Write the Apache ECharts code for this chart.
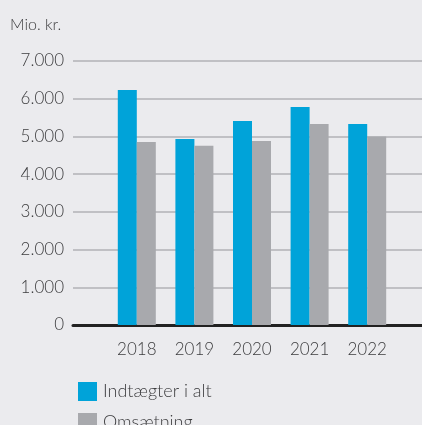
<!DOCTYPE html>
<html>
<head>
<meta charset="utf-8">
<script src="https://cdn.jsdelivr.net/npm/echarts@6/dist/echarts.min.js"></script>
<style>
  html, body { margin: 0; padding: 0; background: #ebebee; }
  #chart { width: 422px; height: 425px; }
</style>
</head>
<body>
<div id="chart"></div>
<script>
var years = ['2018', '2019', '2020', '2021', '2022'];
var indtaegter = [6230, 4930, 5410, 5780, 5330];
var omsaetning = [4850, 4750, 4880, 5330, 5000];
var yTicks = [0, 7000, 1000]; // min, max, interval

var fontFam = 'Lato, "Open Sans", sans-serif';
var textCol = '#3c3c3e';

function fmt(v) {
    // dansk tusindtalsseparator
    return String(v).replace(/\B(?=(\d{3})+(?!\d))/g, '.');
}

function legendAt(name, top) {
    return {
        left: 73,
        top: top,
        itemWidth: 19,
        itemHeight: 19,
        icon: 'rect',
        textStyle: { fontFamily: fontFam, fontWeight: 300, fontSize: 18, color: textCol, padding: [0, 0, 0, 1] },
        data: [name]
    };
}

var myChart = echarts.init(document.getElementById('chart'));
myChart.setOption({
    backgroundColor: '#ebebee',
    animation: false,
    color: ['#00a3d9', '#a8a9ad'],
    title: {
        text: 'Mio. kr.',
        left: 5,
        top: 12,
        textStyle: { fontFamily: fontFam, fontWeight: 300, fontSize: 16, color: textCol }
    },
    legend: [legendAt('Indtægter i alt', 377), legendAt('Omsætning', 408)],
    grid: [
        { left: 73, right: 0, top: 61, bottom: 100 },
        { left: 108, right: 26, top: 61, bottom: 100 }
    ],
    xAxis: [{
        gridIndex: 0,
        type: 'category',
        data: years,
        axisLine: { show: true, lineStyle: { color: '#222', width: 3 } },
        axisTick: { show: false },
        axisLabel: { show: false }
    }, {
        gridIndex: 1,
        type: 'category',
        data: years,
        axisLine: { show: false },
        axisTick: { show: false },
        axisLabel: { fontFamily: fontFam, fontWeight: 300, fontSize: 17, color: textCol, margin: 16 }
    }],
    yAxis: [{
        gridIndex: 0,
        type: 'value',
        min: yTicks[0],
        max: yTicks[1],
        interval: yTicks[2],
        axisLine: { show: false },
        axisTick: { show: false },
        splitLine: { lineStyle: { color: '#b2b2b6', width: 1.5 } },
        axisLabel: {
            margin: 9,
            fontFamily: fontFam, fontWeight: 300, fontSize: 17, color: textCol,
            formatter: fmt
        }
    }, {
        gridIndex: 1,
        type: 'value',
        min: yTicks[0],
        max: yTicks[1],
        interval: yTicks[2],
        show: false
    }],
    series: [{
        name: 'Indtægter i alt',
        type: 'bar',
        xAxisIndex: 1,
        yAxisIndex: 1,
        barWidth: 19,
        barGap: '0%',
        data: indtaegter
    }, {
        name: 'Omsætning',
        type: 'bar',
        xAxisIndex: 1,
        yAxisIndex: 1,
        barWidth: 19,
        barGap: '0%',
        data: omsaetning
    }]
});
</script>
</body>
</html>
